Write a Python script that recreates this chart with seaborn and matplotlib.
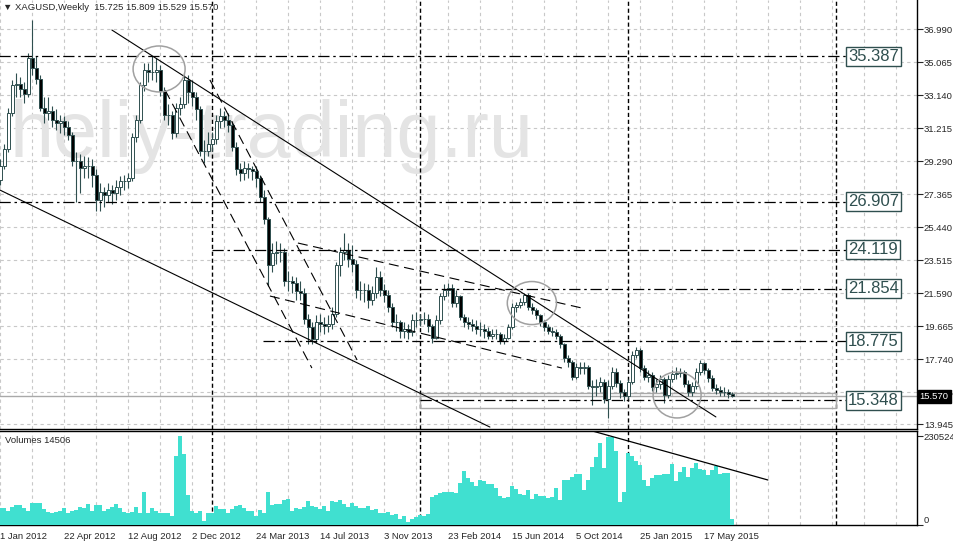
import numpy as np
import pandas as pd
import seaborn as sns
import matplotlib.pyplot as plt
import matplotlib.transforms as mtransforms
from matplotlib.patches import Ellipse, Rectangle

# XAGUSD weekly candles, bar 0 = week of 1 Jan 2012
opens = [28.2, 29.0, 30.0, 32.1, 33.7, 33.8, 33.5, 33.2, 35.3, 34.7,
         34.1, 32.4, 32.1, 32.2, 31.7, 31.5, 31.6, 31.3, 30.8, 29.3,
         29.3, 28.9, 29.0, 29.0, 28.5, 27.0, 27.5, 27.3, 27.6, 27.4,
         27.8, 28.1, 28.1, 28.3, 30.7, 31.7, 33.7, 34.6, 34.5, 34.5,
         34.6, 33.4, 32.0, 32.0, 30.9, 32.4, 32.6, 34.0, 33.3, 33.0,
         32.3, 29.9, 29.9, 30.3, 30.6, 31.6, 31.9, 31.7, 31.4, 30.1,
         28.8, 28.6, 28.9, 28.8, 28.7, 28.3, 27.2, 25.9, 23.2, 23.9,
         24.0, 24.0, 22.3, 22.3, 22.2, 21.7, 21.6, 20.1, 19.6, 18.9,
         19.9, 19.8, 19.7, 19.8, 20.4, 23.2, 24.0, 24.1, 23.6, 23.3,
         21.8, 21.8, 21.8, 21.2, 21.6, 22.5, 21.8, 21.5, 20.8, 19.9,
         19.9, 19.4, 19.5, 19.3, 20.0, 20.0, 20.1, 20.1, 19.7, 19.0,
         20.0, 21.4, 21.8, 21.9, 21.0, 21.4, 20.2, 19.9, 19.8, 19.7,
         19.5, 19.5, 19.4, 19.1, 19.2, 19.2, 18.8, 19.0, 19.6, 20.8,
         20.9, 21.1, 21.5, 20.8, 20.6, 20.3, 19.9, 19.6, 19.4, 19.3,
         19.1, 18.6, 17.8, 17.6, 16.7, 17.3, 17.2, 17.3, 16.2, 16.1,
         16.2, 16.4, 15.4, 16.2, 17.0, 16.35, 15.8, 15.6, 16.4, 18.0,
         18.3, 17.2, 16.7, 16.8, 16.1, 16.3, 16.6, 15.65, 16.6, 16.9,
         16.95, 17.0, 16.3, 15.8, 16.2, 17.0, 17.5, 17.1, 16.65, 16.05,
         15.95, 15.85, 15.8, 15.725]
highs = [29.4, 30.3, 32.4, 34.0, 34.4, 34.2, 33.9, 35.6, 37.5, 35.4,
         34.3, 33.0, 33.0, 32.5, 32.3, 32.0, 31.9, 31.6, 31.0, 29.8,
         29.7, 29.6, 29.5, 29.4, 28.8, 28.0, 27.8, 28.0, 27.9, 28.2,
         28.4, 28.5, 28.6, 30.9, 32.0, 33.9, 35.0, 35.0, 35.4, 35.3,
         34.9, 33.6, 32.6, 32.2, 32.7, 33.0, 34.4, 34.3, 34.0, 33.3,
         32.5, 30.5, 31.0, 31.0, 32.0, 32.4, 32.2, 32.1, 31.6, 30.4,
         29.2, 29.3, 29.2, 29.0, 29.0, 28.5, 27.6, 26.0, 24.5, 24.6,
         24.5, 24.2, 22.9, 22.6, 22.5, 22.3, 21.9, 20.4, 19.9, 20.3,
         20.4, 20.2, 20.3, 20.8, 23.4, 24.3, 25.1, 24.5, 24.4, 23.5,
         22.3, 22.2, 22.1, 22.0, 23.1, 22.9, 22.1, 21.8, 21.0, 20.4,
         20.0, 19.9, 19.8, 20.4, 20.5, 20.4, 20.5, 20.4, 19.8, 20.3,
         21.6, 22.1, 22.2, 22.1, 21.8, 21.5, 20.4, 20.2, 20.1, 20.0,
         19.9, 19.8, 19.6, 19.5, 19.5, 19.3, 19.2, 19.8, 21.0, 21.1,
         21.3, 21.6, 21.6, 21.0, 20.7, 20.4, 20.0, 19.8, 19.6, 19.5,
         19.2, 18.7, 18.0, 17.7, 17.5, 17.6, 17.6, 17.4, 16.5, 16.6,
         16.7, 16.6, 16.5, 17.3, 17.2, 16.5, 16.0, 16.6, 18.2, 18.45,
         18.4, 17.4, 17.1, 17.0, 16.6, 16.8, 16.7, 16.8, 17.1, 17.3,
         17.2, 17.1, 16.5, 16.4, 17.2, 17.7, 17.6, 17.2, 16.8, 16.3,
         16.2, 16.1, 16.0, 15.809]
lows = [27.9, 28.8, 29.8, 31.9, 33.0, 33.0, 32.7, 33.0, 34.3, 33.8,
        32.2, 31.5, 31.7, 31.3, 31.1, 30.9, 30.8, 30.5, 29.0, 26.9,
        27.4, 28.3, 28.3, 27.8, 26.4, 26.4, 26.6, 26.9, 26.8, 27.0,
        27.3, 27.6, 27.7, 28.1, 30.4, 31.5, 33.4, 33.9, 34.0, 33.9,
        33.1, 31.7, 31.4, 30.6, 30.7, 32.0, 32.4, 32.7, 32.5, 31.7,
        29.6, 29.2, 29.6, 29.9, 30.3, 31.2, 31.3, 31.0, 29.9, 28.5,
        28.1, 28.2, 28.3, 28.2, 27.8, 26.9, 25.6, 22.0, 22.8, 23.3,
        23.4, 22.0, 21.7, 21.6, 21.2, 21.2, 19.8, 18.6, 18.6, 18.7,
        19.3, 19.2, 19.3, 19.5, 20.2, 22.6, 23.5, 23.1, 22.8, 21.3,
        21.2, 21.1, 20.7, 20.9, 21.3, 21.4, 21.1, 20.5, 19.6, 19.4,
        19.0, 19.0, 18.9, 19.1, 19.6, 19.7, 19.8, 19.3, 18.7, 18.9,
        19.8, 21.2, 21.4, 20.8, 20.8, 20.0, 19.6, 19.5, 19.4, 19.2,
        19.1, 19.0, 18.9, 18.9, 18.9, 18.6, 18.6, 18.9, 19.5, 20.5,
        20.7, 20.9, 20.6, 20.4, 20.1, 19.7, 19.4, 19.2, 19.1, 18.9,
        18.4, 17.6, 17.3, 16.5, 16.6, 16.9, 16.9, 16.0, 15.05, 15.6,
        15.8, 15.2, 14.3, 16.0, 16.1, 15.5, 15.3, 15.4, 16.3, 17.8,
        17.0, 16.5, 16.4, 15.9, 15.8, 16.0, 15.2, 15.5, 16.4, 16.6,
        16.7, 16.1, 15.6, 15.6, 16.0, 16.8, 16.9, 16.4, 15.9, 15.7,
        15.6, 15.6, 15.5, 15.529]
closes = [29.0, 30.0, 32.1, 33.7, 33.8, 33.5, 33.2, 35.3, 34.7, 34.1,
          32.4, 32.1, 32.2, 31.7, 31.5, 31.6, 31.3, 30.8, 29.3, 29.3,
          28.9, 29.0, 29.0, 28.5, 27.0, 27.5, 27.3, 27.6, 27.4, 27.8,
          28.1, 28.1, 28.3, 30.7, 31.7, 33.7, 34.6, 34.5, 34.5, 34.6,
          33.4, 32.0, 32.0, 30.9, 32.4, 32.6, 34.0, 33.3, 33.0, 32.3,
          29.9, 29.9, 30.3, 30.6, 31.6, 31.9, 31.7, 31.4, 30.1, 28.8,
          28.6, 28.9, 28.8, 28.7, 28.3, 27.2, 25.9, 23.2, 23.9, 24.0,
          24.0, 22.3, 22.3, 22.2, 21.7, 21.6, 20.1, 19.6, 18.9, 19.9,
          19.8, 19.7, 19.8, 20.4, 23.2, 24.0, 24.1, 23.6, 23.3, 21.8,
          21.8, 21.8, 21.2, 21.6, 22.5, 21.8, 21.5, 20.8, 19.9, 19.9,
          19.4, 19.5, 19.3, 20.0, 20.0, 20.1, 20.1, 19.7, 19.0, 20.0,
          21.4, 21.8, 21.9, 21.0, 21.4, 20.2, 19.9, 19.8, 19.7, 19.5,
          19.5, 19.4, 19.1, 19.2, 19.2, 18.8, 19.0, 19.6, 20.8, 20.9,
          21.1, 21.5, 20.8, 20.6, 20.3, 19.9, 19.6, 19.4, 19.3, 19.1,
          18.6, 17.8, 17.6, 16.7, 17.3, 17.2, 17.3, 16.2, 16.1, 16.2,
          16.4, 15.4, 16.2, 17.0, 16.35, 15.8, 15.6, 16.4, 18.0, 18.3,
          17.2, 16.7, 16.8, 16.1, 16.3, 16.6, 15.65, 16.6, 16.9, 16.95,
          17.0, 16.3, 15.8, 16.2, 17.0, 17.5, 17.1, 16.65, 16.05, 15.95,
          15.85, 15.8, 15.7, 15.57]
volumes = [45000, 43200, 37100, 45700, 51800, 51800, 43200, 37100, 57800, 56100,
           57800, 40600, 34500, 31900, 34500, 37100, 43200, 31900, 37100, 38800,
           45700, 43200, 54400, 37100, 51800, 51800, 37100, 40600, 45700, 54400,
           43200, 34500, 30200, 34500, 45700, 31900, 85400, 31900, 43200, 37100,
           31900, 30200, 30200, 23300, 178600, 230524, 183800, 77700, 37100, 31900,
           37100, 11200, 31900, 30200, 49200, 40600, 40600, 31900, 40600, 49200,
           51800, 43000, 37500, 36200, 23300, 38800, 30200, 85400, 51800, 54400,
           54400, 64700, 67300, 36200, 43200, 40600, 45700, 62100, 49200, 45700,
           40600, 49200, 37100, 62100, 60400, 64700, 54400, 45700, 56100, 49200,
           43200, 43200, 49200, 38800, 40600, 30200, 30200, 34500, 25900, 27600,
           14700, 23300, 6900, 14700, 21600, 25900, 23300, 27600, 73400, 77700,
           83700, 84600, 84600, 86300, 83700, 109600, 139800, 120800, 112200, 101000,
           116500, 113900, 106100, 105300, 94900, 75100, 69000, 73400, 101000, 92300,
           80300, 77700, 90600, 66500, 80300, 75900, 75900, 69000, 71600, 94900,
           64700, 116500, 116500, 123400, 132000, 132000, 90600, 116500, 149300, 176900,
           211400, 146700, 227000, 227000, 192400, 60400, 86300, 187300, 178600, 165700,
           155300, 116500, 101000, 120800, 129500, 129500, 132000, 132000, 157900, 113900,
           138100, 151000, 125100, 146700, 159700, 144100, 142400, 129500, 142400, 152800,
           132000, 135500, 133800, 14506]

price_ticks = [36.990, 35.065, 33.140, 31.215, 29.290, 27.365, 25.440,
               23.515, 21.590, 19.665, 17.740, 15.815, 13.945]
date_ticks = [0, 16, 32, 48, 64, 80, 96, 112, 128, 144, 160, 176]
date_labels = ['1 Jan 2012', '22 Apr 2012', '12 Aug 2012', '2 Dec 2012',
               '24 Mar 2013', '14 Jul 2013', '3 Nov 2013', '23 Feb 2014',
               '15 Jun 2014', '5 Oct 2014', '25 Jan 2015', '17 May 2015']
year_separators = [53, 105, 157, 209]

# drawn objects (bar index, price)
levels = [35.387, 26.907, 24.119, 21.854, 18.775, 15.348]
level_from = [-1, -1, 53, 105, 65.7, 105]
level_to = 211.5
solid_lines = [((27.9, 36.93), (178.9, 14.37)),
               ((-0.1, 27.60), (122.4, 13.78))]
dashed_lines = [((41.2, 33.43), (77.9, 17.22)),
                ((52.4, 34.02), (89.2, 17.69)),
                ((74.4, 24.51), (145.4, 20.72)),
                ((67.4, 21.42), (140.4, 17.22))]
volume_line = ((148.2, 243000), (191.9, 116600))
circles = [(39.7, 34.66, 13.0, 2.68),
           (132.9, 21.01, 12.3, 2.51),
           (169.2, 15.65, 12.0, 2.68)]
zone = (105, 209, 14.89, 15.765)

sns.set_style('white')
plt.rcParams['font.family'] = ['Liberation Sans', 'DejaVu Sans']
plt.rcParams['font.size'] = 7

W, H = 954, 544
fig = plt.figure(figsize=(W / 100, H / 100), dpi=100)
ax = fig.add_axes([0, 1 - 429 / H, 917 / W, 429 / H])
axv = fig.add_axes([0, 1 - 525 / H, 917 / W, 94 / H])

xlim = (-0.075, 229.175)
grid_kw = dict(color='#c8c8c8', linewidth=0.8, linestyle=(0, (3, 3)))
candle_col = '#2f4f4f'
small = 6.8

# ---- price panel
ax.set_xlim(xlim)
ax.set_ylim(13.666, 38.681)
ax.set_xticks(np.arange(0, 230, 8))
ax.tick_params(axis='x', length=0, labelbottom=False)
ax.yaxis.tick_right()
ax.set_yticks(price_ticks)
ax.set_yticklabels([f'{v:.3f}' for v in price_ticks])
ax.tick_params(axis='y', direction='out', length=4, width=0.8, pad=1, labelsize=small)
ax.grid(True, **grid_kw)
ax.set_axisbelow(True)
for side in ['top', 'left']:
    ax.spines[side].set_visible(False)
for side in ['right', 'bottom']:
    ax.spines[side].set_color('black')
    ax.spines[side].set_linewidth(1)

ax.text(10 / 917, 1 - 157 / 429, 'heliy-trading.ru', transform=ax.transAxes,
        fontsize=57, color='#e4e4e4', ha='left', va='baseline', zorder=1.2)

for s in year_separators:
    ax.axvline(s, color='black', lw=1, ls=(0, (3, 2)), zorder=1.5)
    axv.axvline(s, color='black', lw=1, ls=(0, (3, 2)), zorder=1.5)

idx = np.arange(len(closes))
o, h, l, c = map(np.array, (opens, highs, lows, closes))
up = c >= o
ax.vlines(idx, l, h, color=candle_col, lw=0.8, zorder=3)
ax.bar(idx, np.abs(c - o), bottom=np.minimum(o, c), width=0.62,
       color=np.where(up, 'white', 'black'), edgecolor=candle_col, linewidth=0.7, zorder=4)

ax.axhline(closes[-1], color='#a9a9a9', lw=1, zorder=2)
ax.add_patch(Rectangle((zone[0], zone[2]), zone[1] - zone[0], zone[3] - zone[2],
                       fill=False, edgecolor='#a9a9a9', lw=1, zorder=2))

for p, start in zip(levels, level_from):
    ax.plot([start, level_to], [p, p], color='black', lw=0.9,
            ls=(0, (9, 3, 2, 3)), zorder=5)
    ax.text(level_to + 0.4, p, f'{p:.3f}', fontsize=12, color=candle_col,
            ha='left', va='center', zorder=6,
            bbox=dict(boxstyle='square,pad=0.12', fc='white', ec=candle_col, lw=1))

for (x0, y0), (x1, y1) in solid_lines:
    ax.plot([x0, x1], [y0, y1], color='black', lw=0.8, zorder=5)
for (x0, y0), (x1, y1) in dashed_lines:
    ax.plot([x0, x1], [y0, y1], color='black', lw=0.8, ls=(0, (9, 5)), zorder=5)
for cx, cy, w, hh in circles:
    ax.add_patch(Ellipse((cx, cy), w, hh, fill=False, edgecolor='#a0a0a0', lw=1.1, zorder=5))

trans = mtransforms.blended_transform_factory(ax.transAxes, ax.transData)
ax.text(1.003, closes[-1], f'{closes[-1]:.3f}', transform=trans, color='white',
        fontsize=small, ha='left', va='center', zorder=10, clip_on=False,
        bbox=dict(boxstyle='square,pad=0.2', fc='black', ec='black'))

# ---- volume panel
vol_df = pd.DataFrame({'bar': idx, 'volume': volumes})
sns.barplot(data=vol_df, x='bar', y='volume', native_scale=True, width=1.0,
            color='#40E0D0', saturation=1, errorbar=None, linewidth=0,
            ax=axv, zorder=3)
(vx0, vy0), (vx1, vy1) = volume_line
axv.plot([vx0, vx1], [vy0, vy1], color='black', lw=0.9, zorder=5)

axv.set_xlim(xlim)
axv.set_ylim(0, 243500)
axv.set_xlabel('')
axv.set_ylabel('')
axv.yaxis.tick_right()
axv.set_yticks([0, 230524])
axv.set_yticklabels(['0', '230524'])
axv.yaxis.get_major_ticks()[0].label2.set_va('bottom')
axv.tick_params(axis='y', direction='out', length=4, width=0.8, pad=1, labelsize=small)
axv.set_xticks(date_ticks)
axv.set_xticklabels(date_labels, ha='left')
axv.set_xticks(np.arange(0, 230, 8), minor=True)
axv.tick_params(axis='x', which='major', length=3, pad=2, labelsize=small)
axv.tick_params(axis='x', which='minor', length=0)
axv.grid(True, axis='x', which='both', **grid_kw)
axv.set_axisbelow(True)
axv.spines['left'].set_visible(False)
for side in ['top', 'right', 'bottom']:
    axv.spines[side].set_color('black')
    axv.spines[side].set_linewidth(1)
axv.text(5 / 917, 0.9, f'Volumes {volumes[-1]}', transform=axv.transAxes,
         fontsize=small, ha='left', va='center')

fig.text(3 / W, 1 - 8 / H,
         f'\u25bc XAGUSD,Weekly  {opens[-1]:.3f} {highs[-1]:.3f} {lows[-1]:.3f} {closes[-1]:.3f}',
         fontsize=small, ha='left', va='center')

fig.savefig('out.png', dpi=100)
